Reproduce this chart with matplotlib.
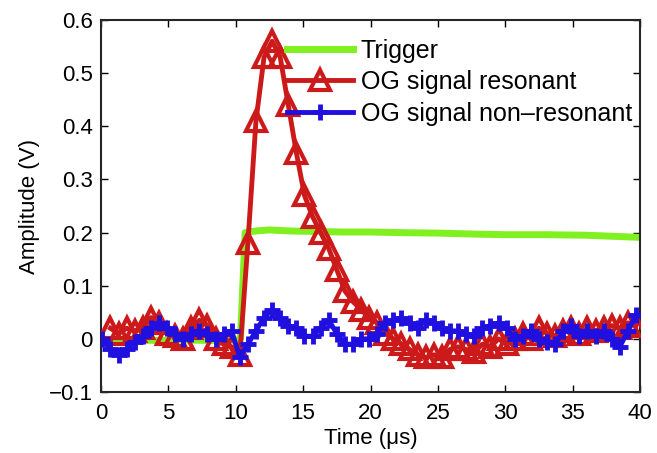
import numpy as np
import matplotlib
matplotlib.use("Agg")
import matplotlib.pyplot as plt

plt.rcParams['font.family'] = ['Liberation Sans', 'DejaVu Sans']

# Time base (µs) for the OG signals
time_us = np.round(0.1 + 0.6 * np.arange(67), 2)

# OG signal resonant (starts at second sample)
res_time = time_us[1:]
res_vals = [0.02, 0.01, 0.02, 0.015, 0.02, 0.04, 0.03, 0.01, 0.005, 0.0,
            0.02, 0.035, 0.025, 0.0, -0.01, -0.015, -0.03, 0.18, 0.41, 0.53,
            0.56, 0.53, 0.44, 0.35, 0.27, 0.23, 0.20, 0.17, 0.13, 0.09,
            0.07, 0.055, 0.04, 0.03, 0.01, 0.0, -0.01, -0.02, -0.03, -0.035,
            -0.03, -0.035, -0.02, -0.015, -0.02, -0.025, -0.01, -0.015, 0.0, -0.01,
            0.0, 0.01, 0.0, 0.02, 0.01, 0.005, 0.015, 0.02, 0.01, 0.02,
            0.015, 0.02, 0.025, 0.02, 0.03, 0.025]

# OG signal non-resonant
nonres_vals = [0.0, -0.02, -0.03, -0.02, -0.005, 0.005, 0.02, 0.03, 0.02, 0.01,
               0.0, 0.01, 0.015, 0.01, 0.0, 0.01, 0.015, -0.035, -0.01, 0.015,
               0.04, 0.055, 0.04, 0.025, 0.02, 0.005, 0.005, 0.02, 0.035, 0.01,
               -0.01, -0.01, 0.0, 0.0, 0.01, 0.03, 0.035, 0.04, 0.03, 0.02,
               0.035, 0.03, 0.02, 0.015, 0.015, 0.01, 0.005, 0.02, 0.025, 0.03,
               0.02, 0.0, 0.005, 0.015, 0.0, -0.005, -0.01, 0.015, 0.025, 0.005,
               0.015, 0.005, 0.015, 0.0, -0.015, 0.015, 0.045]

# Trigger
trig_time = [0, 2, 4, 6, 8, 10, 10.35, 10.7, 11.5, 12.5, 14, 16, 18, 20, 22,
             25, 28, 30, 33, 36, 38, 40]
trig_vals = [-0.002, -0.002, -0.003, -0.002, -0.003, -0.003, 0.0, 0.2, 0.203,
             0.205, 0.203, 0.202, 0.201, 0.201, 0.2, 0.199, 0.197, 0.196,
             0.196, 0.195, 0.193, 0.191]

xticks = [0, 5, 10, 15, 20, 25, 30, 35, 40]
yticks = [-0.1, 0, 0.1, 0.2, 0.3, 0.4, 0.5, 0.6]

fig = plt.figure(figsize=(6.57, 4.53), dpi=100)
ax = fig.add_axes([101/657, 61/453, 539/657, 372/453])

ax.plot(trig_time, trig_vals, color='#80F020', lw=5, label='Trigger', zorder=2)
ax.plot(res_time, res_vals, color='#CC1A1A', lw=3.5, marker='^', ms=15,
        mfc='none', mec='#CC1A1A', mew=3, label='OG signal resonant', zorder=3)
ax.plot(time_us, nonres_vals, color='#2010E0', lw=3.5, marker='+', ms=12,
        mew=3.5, label='OG signal non\u2013resonant', zorder=4)

ax.set_xlim(0, 40)
ax.set_ylim(-0.1, 0.6)
ax.set_xticks(xticks)
ax.set_xticklabels([str(t) for t in xticks])
ax.set_yticks(yticks)
ax.set_yticklabels(['\u22120.1', '0', '0.1', '0.2', '0.3', '0.4', '0.5', '0.6'])
ax.tick_params(axis='both', direction='in', top=True, right=True, length=5,
               width=1, labelsize=16)
ax.tick_params(axis='x', pad=8)
ax.tick_params(axis='y', pad=6)
for s in ax.spines.values():
    s.set_linewidth(1.5)
    s.set_color('#262626')

ax.set_xlabel('Time (\u03bcs)', fontsize=16, labelpad=3)
ax.set_ylabel('Amplitude (V)', fontsize=16, labelpad=6)

leg = ax.legend(loc='upper left', bbox_to_anchor=(0.345, 0.95), frameon=False,
                fontsize=18, handlelength=2.65, handletextpad=0.3,
                labelspacing=0.3, borderpad=0, borderaxespad=0, numpoints=1)

fig.savefig('out.png', dpi=100)
